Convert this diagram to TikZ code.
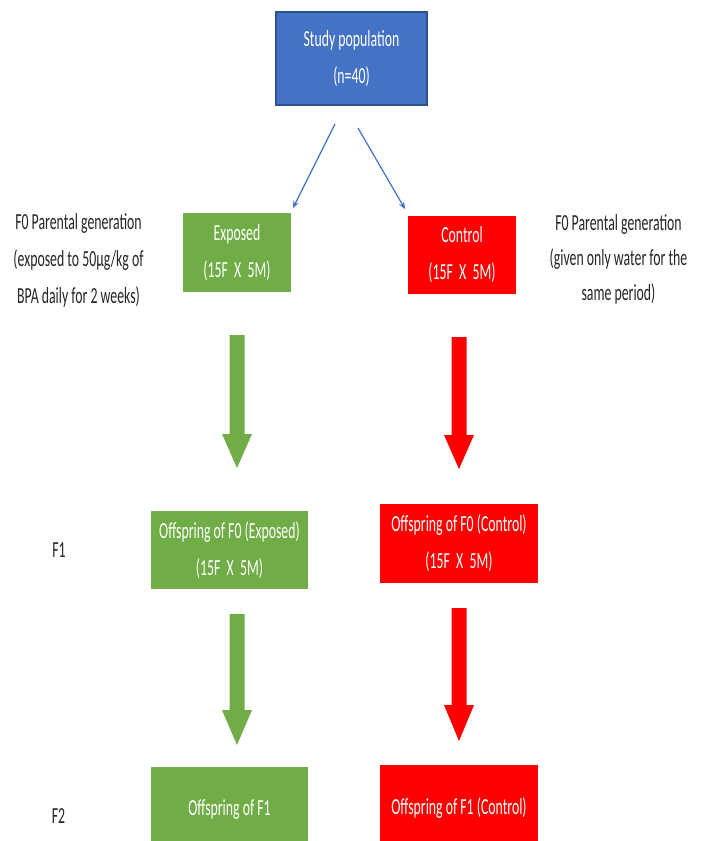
\documentclass[tikz,border=0pt]{standalone}
\usepackage{fontspec}
\setmainfont{Carlito}[FakeStretch=0.6]
\usetikzlibrary{arrows.meta}
\definecolor{blueF}{HTML}{4472C4}
\definecolor{blueB}{HTML}{2F528F}
\definecolor{greenF}{HTML}{70AD47}
\definecolor{redF}{HTML}{FF0000}
\definecolor{txt}{HTML}{262626}
\newcommand{\blockarrow}[5]{%
  \fill[#1] (#2-7.5,#3) -- (#2+7.5,#3) -- (#2+7.5,#4) -- (#2+15,#4) -- (#2,#5) -- (#2-15,#4) -- (#2-7.5,#4) -- cycle;}
\begin{document}
\begin{tikzpicture}[x=1pt,y=-1pt,
  every node/.style={font=\fontsize{23}{37}\selectfont, align=center, inner sep=0pt},
  box/.style={text=white, minimum width=#1},
  lbl/.style={text=txt},
  thin arrow/.style={draw=blueF, line width=1.2pt, -{Stealth[length=7pt,width=6pt]}}]
\clip (0,0) rectangle (705,841);
\fill[white] (0,0) rectangle (705,841);
% boxes
\node[box=151, minimum height=93, fill=blueF, draw=blueB, line width=1.2pt] (study) at (351.5,58.5) {Study population\\(n=40)};
\node[box=108, minimum height=79, fill=greenF] (exp) at (237,252.5) {Exposed\\(15F~ X~ 5M)};
\node[box=108, minimum height=78, fill=redF] (ctl) at (462,255) {Control\\(15F~ X~ 5M)};
\node[box=157, minimum height=78, fill=greenF] (f1e) at (229.5,550) {Offspring of F0 (Exposed)\\(15F~ X~ 5M)};
\node[box=158, minimum height=79, fill=redF] (f1c) at (459,543.5) {Offspring of F0 (Control)\\(15F~ X~ 5M)};
\node[box=157, minimum height=86, fill=greenF] (f2e) at (229.5,810) {Offspring of F1};
\node[box=158, minimum height=86, fill=redF] (f2c) at (459,808) {Offspring of F1 (Control)};
% side labels
\node[lbl] (lft) at (78.5,260) {F0 Parental generation\\(exposed to 50µg/kg of\\BPA daily for 2 weeks)};
\node[lbl, font=\fontsize{23}{35}\selectfont] (rgt) at (618.5,259) {F0 Parental generation\\(given only water for the\\same period)};
\node[lbl] (f1) at (59,550) {F1};
\node[lbl] (f2) at (58.5,816) {F2};
% thin blue arrows
\coordinate (sL) at (335,124);
\coordinate (eL) at (293,208);
\coordinate (sR) at (358,128);
\coordinate (eR) at (405,209);
\draw[thin arrow] (sL) -- (eL);
\draw[thin arrow] (sR) -- (eR);
% block arrows
\blockarrow{greenF}{237}{335}{434}{468}
\blockarrow{redF}{459}{337}{435}{469}
\blockarrow{greenF}{237}{614}{710}{745}
\blockarrow{redF}{459}{608}{705}{741}
\end{tikzpicture}
\end{document}
